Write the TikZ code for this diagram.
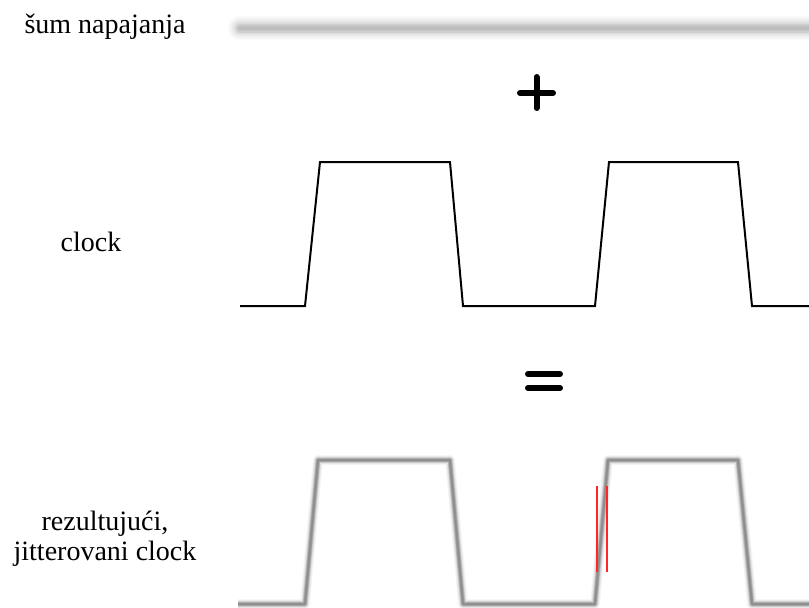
\documentclass[tikz,border=0pt]{standalone}
\usepackage{fontspec}
\setmainfont{Liberation Serif}
\begin{document}
\begin{tikzpicture}[x=1pt,y=-1pt,
  lbl/.style={font=\fontsize{28}{30}\selectfont, inner sep=0pt, align=center},
  sym/.style={line width=6pt, line cap=round},
  clk/.style={line width=2pt, line join=miter},
  haze/.style={draw=black!50, line join=round, line cap=butt},
  redmark/.style={draw=red!85!white, line width=1.2pt}]
\useasboundingbox[fill=white] (0,0) rectangle (809,608);

% labels
\node[lbl] (noise) at (105,27) {šum napajanja};
\node[lbl] (clock) at (91,242) {clock};
\node[lbl] (result) at (105,539) {rezultujući,\\jitterovani clock};

% supply noise: soft grey band
\foreach \w/\o in {24/0.04,20/0.05,16/0.06,12/0.08,9/0.10,6/0.10,3/0.08}
  \draw[line width=\w pt, draw=black!60, opacity=\o, line cap=round] (240,28) -- (820,28);

% plus sign
\draw[sym] (520,93) -- (553,93);
\draw[sym] (536.5,77) -- (536.5,108);

% clean clock
\draw[clk] (240,306) -- (305,306) -- (320,162) -- (450,162) -- (463,306)
  -- (595,306) -- (609,162) -- (738,162) -- (752,306) -- (809,306);

% equals sign
\draw[sym] (528,374) -- (560,374);
\draw[sym] (528,388) -- (560,388);

% jittered clock: blurred grey trace
\foreach \w/\o in {10/0.07,8/0.1,6/0.18,4.5/0.35,3/0.5,1.5/0.5}
  \draw[haze, line width=\w pt, opacity=\o]
    (238,604) -- (305,604) -- (318,460) -- (450,460) -- (463,604)
    -- (595,604) -- (608,460) -- (738,460) -- (752,604) -- (809,604);

% jitter window on the rising edge
\draw[redmark] (597,486) -- (597,572);
\draw[redmark] (607,486) -- (607,572);
\end{tikzpicture}
\end{document}
